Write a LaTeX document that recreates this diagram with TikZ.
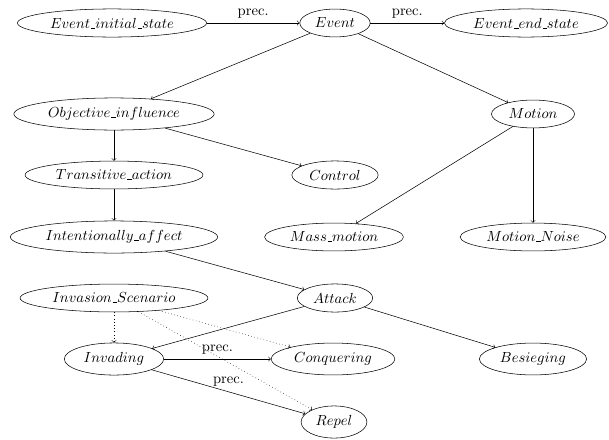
\documentclass[11pt,tikz,border=0pt]{standalone}
\usetikzlibrary{arrows,shapes.geometric}
\newcommand{\us}{\mbox{\kern.06em\vbox{\hrule width.3em}}}
\tikzset{
  conceptnode/.style = {ellipse, draw=black, align=center, text centered},
  precedge/.style = {->},
  scenedge/.style = {->, dotted},
}

\begin{document}
\begin{tikzpicture}[->,>=to,x=0.75pt,y=-0.75pt]
    \useasboundingbox (0,0) rectangle (609,439);
    % top row
    \node [conceptnode] (initstate) at (112,23) {$Event\us initial\us state$};
    \node [conceptnode] (event) at (335,23) {$Event$};
    \node [conceptnode] (endstate) at (526,23) {$Event\us end\us state$};
    % left branch
    \node [conceptnode] (objinfl) at (114,114) {$Objective\us influence$};
    \node [conceptnode] (transact) at (114,175) {$Transitive\us action$};
    \node [conceptnode] (control) at (335,175) {$Control$};
    \node [conceptnode] (intaffect) at (114,237) {$Intentionally\us affect$};
    % right branch
    \node [conceptnode] (motion) at (533,114) {$Motion$};
    \node [conceptnode] (massmotion) at (334,237) {$Mass\us motion$};
    \node [conceptnode] (motionnoise) at (533,237) {$Motion\us Noise$};
    % scenario
    \node [conceptnode] (invscen) at (114,298) {$Invasion\us Scenario$};
    \node [conceptnode] (attack) at (335,298) {$Attack$};
    \node [conceptnode] (invading) at (114,359) {$Invading$};
    \node [conceptnode] (conquer) at (333,359) {$Conquering$};
    \node [conceptnode] (besiege) at (533,359) {$Besieging$};
    \node [conceptnode] (repel) at (334,422) {$Repel$};

    \draw [precedge] (initstate) -- node[above] {prec.} (event);
    \draw [precedge] (event) -- node[above] {prec.} (endstate);
    \draw (event) -- (objinfl);
    \draw (event) -- (motion);
    \draw (objinfl) -- (transact);
    \draw (objinfl) -- (control);
    \draw (motion) -- (massmotion);
    \draw (motion) -- (motionnoise);
    \draw (transact) -- (intaffect);
    \draw (intaffect) -- (attack);
    \draw (attack) -- (invading);
    \draw (attack) -- (besiege);
    \draw [precedge] (invading) -- node[above] {prec.} (conquer);
    \draw [precedge] (invading) -- node[above] {prec.} (repel);
    \draw [scenedge] (invscen) -- (invading);
    \draw [scenedge] (invscen) -- (conquer);
    \draw [scenedge] (invscen) -- (repel);
  \end{tikzpicture}
\end{document}
